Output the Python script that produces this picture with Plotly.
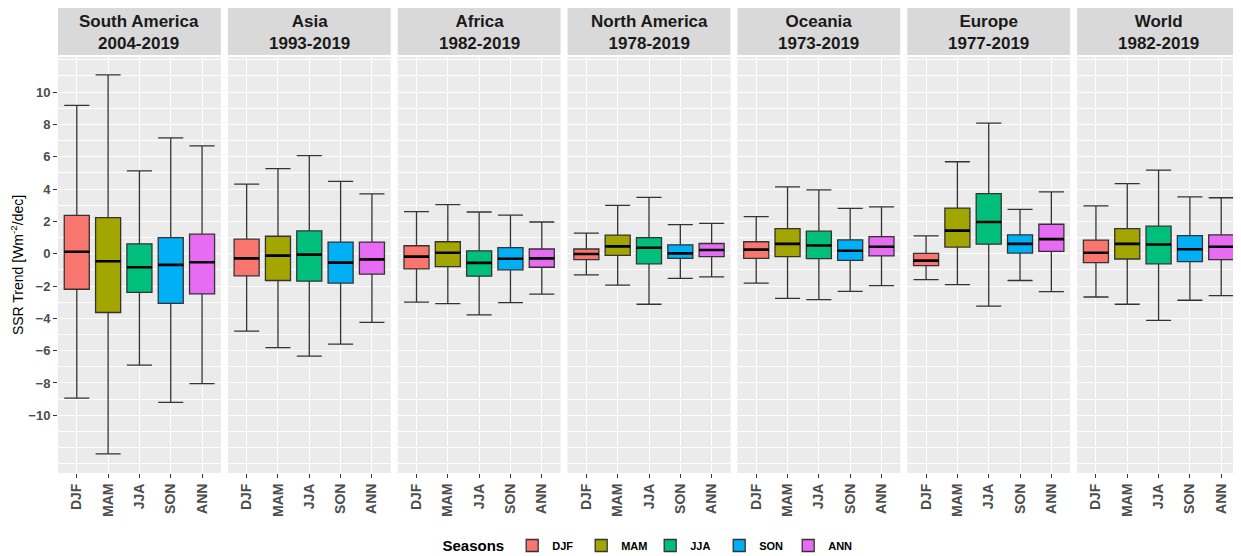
import plotly.graph_objects as go
from plotly.subplots import make_subplots

regions = ["South America", "Asia", "Africa", "North America", "Oceania", "Europe", "World"]
periods = ["2004-2019", "1993-2019", "1982-2019", "1978-2019", "1973-2019", "1977-2019", "1982-2019"]
seasons = ["DJF", "MAM", "JJA", "SON", "ANN"]
colors = ["#F8766D", "#A3A500", "#00BF7D", "#00B0F6", "#E76BF3"]

# per region: lists over seasons [DJF, MAM, JJA, SON, ANN]
lower = {
    "South America": [-8.94, -12.39, -6.89, -9.20, -8.04],
    "Asia":          [-4.79, -5.81, -6.34, -5.60, -4.25],
    "Africa":        [-3.00, -3.09, -3.78, -3.03, -2.50],
    "North America": [-1.31, -1.94, -3.13, -1.53, -1.43],
    "Oceania":       [-1.82, -2.76, -2.84, -2.33, -1.98],
    "Europe":        [-1.61, -1.92, -3.25, -1.66, -2.35],
    "World":         [-2.68, -3.13, -4.13, -2.88, -2.60],
}
q1 = {
    "South America": [-2.20, -3.64, -2.39, -3.07, -2.49],
    "Asia":          [-1.37, -1.66, -1.70, -1.82, -1.27],
    "Africa":        [-0.94, -0.80, -1.39, -1.00, -0.84],
    "North America": [-0.37, -0.10, -0.63, -0.29, -0.18],
    "Oceania":       [-0.29, -0.18, -0.31, -0.41, -0.14],
    "Europe":        [-0.74, 0.41, 0.59, 0.04, 0.14],
    "World":         [-0.55, -0.33, -0.63, -0.49, -0.37],
}
median = {
    "South America": [0.12, -0.47, -0.84, -0.69, -0.53],
    "Asia":          [-0.29, -0.12, -0.06, -0.55, -0.35],
    "Africa":        [-0.18, 0.06, -0.57, -0.31, -0.29],
    "North America": [-0.02, 0.45, 0.37, 0.02, 0.23],
    "Oceania":       [0.25, 0.61, 0.51, 0.18, 0.43],
    "Europe":        [-0.43, 1.43, 1.96, 0.61, 0.90],
    "World":         [0.06, 0.61, 0.57, 0.27, 0.43],
}
q3 = {
    "South America": [2.37, 2.23, 0.61, 1.00, 1.21],
    "Asia":          [0.90, 1.08, 1.41, 0.72, 0.72],
    "Africa":        [0.49, 0.74, 0.18, 0.37, 0.29],
    "North America": [0.29, 1.15, 1.00, 0.55, 0.63],
    "Oceania":       [0.74, 1.55, 1.39, 0.86, 1.06],
    "Europe":        [0.02, 2.82, 3.72, 1.17, 1.82],
    "World":         [0.84, 1.55, 1.70, 1.12, 1.17],
}
upper = {
    "South America": [9.18, 11.06, 5.13, 7.16, 6.67],
    "Asia":          [4.31, 5.26, 6.07, 4.48, 3.70],
    "Africa":        [2.60, 3.03, 2.58, 2.39, 1.96],
    "North America": [1.27, 2.99, 3.48, 1.80, 1.88],
    "Oceania":       [2.29, 4.13, 3.95, 2.80, 2.90],
    "Europe":        [1.10, 5.69, 8.08, 2.74, 3.82],
    "World":         [2.96, 4.34, 5.17, 3.52, 3.46],
}
y_ticks = [-10, -8, -6, -4, -2, 0, 2, 4, 6, 8, 10]

# page body has an 8px margin, so the figure is sized to fill the rest
W, H = 1233, 548
ml, mr, mt, mb = 50, 1, 49, 83
pw = W - ml - mr
ph = H - mt - mb
gap = 7

fig = make_subplots(rows=1, cols=7, shared_yaxes=True, horizontal_spacing=gap / pw)

BOXW = 0.8
for ci, reg in enumerate(regions):
    col = ci + 1
    for si, s in enumerate(seasons):
        xpos = si + 1
        fig.add_trace(go.Box(
            x=[xpos], q1=[q1[reg][si]], median=[median[reg][si]], q3=[q3[reg][si]],
            lowerfence=[lower[reg][si]], upperfence=[upper[reg][si]],
            name=s, legendgroup=s, showlegend=(ci == 0),
            fillcolor=colors[si], line=dict(color="#333333", width=1.3),
            width=BOXW, whiskerwidth=1, boxpoints=False,
        ), row=1, col=col)
        fig.add_trace(go.Scatter(
            x=[xpos - BOXW / 2, xpos + BOXW / 2], y=[median[reg][si]] * 2,
            mode="lines", line=dict(color="#000000", width=2.6),
            showlegend=False, hoverinfo="skip",
        ), row=1, col=col)

minor_vals = [v for v in range(-13, 13) if v not in y_ticks]
for ci in range(7):
    fig.update_xaxes(
        row=1, col=ci + 1, range=[0.4, 5.6], tickmode="array",
        tickvals=list(range(1, 6)), ticktext=seasons, tickangle=-90,
        tickfont=dict(family="Liberation Sans", size=14, color="#4D4D4D", weight=700),
        ticks="outside", ticklen=4, tickcolor="#333333", automargin=False,
        showgrid=True, gridcolor="#FFFFFF", gridwidth=1.1, zeroline=False, showline=False,
    )
fig.update_yaxes(
    range=[-13.57, 12.17], tickmode="array", tickvals=y_ticks,
    showgrid=True, gridcolor="#FFFFFF", gridwidth=1.1, zeroline=False, showline=False,
    minor=dict(tickmode="array", tickvals=minor_vals, showgrid=True,
               gridcolor="#FFFFFF", gridwidth=0.5, ticks=""),
    ticks="", automargin=False,
    tickfont=dict(family="Liberation Sans", size=13, color="#4D4D4D", weight=700),
)
fig.update_yaxes(row=1, col=1, ticks="outside", ticklen=4, tickcolor="#333333",
                 title=dict(text="SSR Trend [Wm<sup>-2</sup>/dec]",
                            font=dict(family="Liberation Sans", size=14, color="#000000"),
                            standoff=4))

# facet strips
for ci in range(7):
    xa = fig.layout["xaxis" if ci == 0 else f"xaxis{ci + 1}"]
    d0, d1 = xa.domain
    fig.add_shape(type="rect", xref="paper", yref="paper",
                  x0=d0, x1=d1, y0=(ph + 2) / ph, y1=(ph + 52) / ph,
                  fillcolor="#D9D9D9", line=dict(width=0), layer="below")
    fig.add_annotation(xref="paper", yref="paper", x=(d0 + d1) / 2, y=(ph + 25) / ph,
                       text=f"<b>{regions[ci]}<br>{periods[ci]}</b>", showarrow=False,
                       font=dict(family="Liberation Sans", size=17, color="#1A1A1A"),
                       xanchor="center", yanchor="middle")

fig.update_layout(
    width=W, height=H, margin=dict(l=ml, r=mr, t=mt, b=mb, autoexpand=False),
    paper_bgcolor="#FFFFFF", plot_bgcolor="#EBEBEB",
    boxmode="overlay", showlegend=True,
    legend=dict(orientation="h", x=0.5, xanchor="center", y=-(538 - (H - mb)) / ph,
                yanchor="middle",
                title=dict(text="<b>Seasons</b>", side="left",
                           font=dict(family="Liberation Sans", size=15, color="#000000")),
                font=dict(family="Liberation Sans", size=11, color="#000000", weight=700),
                itemwidth=30, tracegroupgap=0, entrywidth=24, entrywidthmode="pixels"),
    font=dict(family="Liberation Sans"),
)

fig.write_html("out.html")
